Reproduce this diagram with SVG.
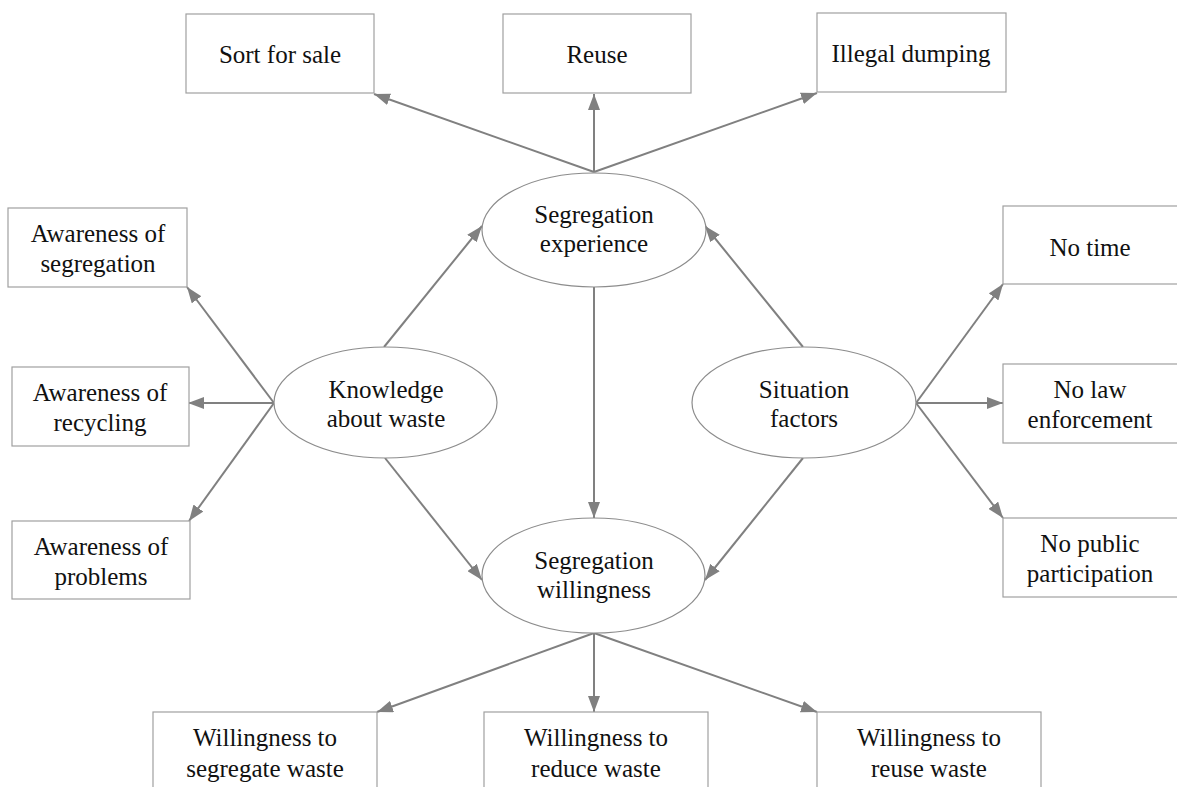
<svg xmlns="http://www.w3.org/2000/svg" width="1177" height="787" viewBox="0 0 1177 787">
<style>
.box{fill:#fff;stroke:#a0a0a0;stroke-width:1.2}
.ell{fill:#fff;stroke:#8c8c8c;stroke-width:1.2}
.t{font-family:"Liberation Serif","Times New Roman",serif;font-size:25px;fill:#111;text-anchor:middle}
.c line{stroke:#808080;stroke-width:2;marker-end:url(#ah)}
</style>
<defs>
<marker id="ah" markerUnits="userSpaceOnUse" viewBox="0 0 16 12" markerWidth="16" markerHeight="12" refX="16" refY="6" orient="auto">
<path d="M0,0 L16,6 L0,12 z" fill="#808080"/>
</marker>
</defs>
<rect width="1177" height="787" fill="#fff"/>
<g class="c" id="connectors">
<line x1="594" y1="172" x2="374" y2="94"/>
<line x1="594" y1="172" x2="594" y2="94"/>
<line x1="594" y1="172" x2="817" y2="93"/>
<line x1="384" y1="347" x2="482" y2="226"/>
<line x1="803" y1="347" x2="705" y2="226"/>
<line x1="594" y1="287" x2="594" y2="518"/>
<line x1="385" y1="458" x2="482" y2="580"/>
<line x1="803" y1="458" x2="705" y2="580"/>
<line x1="274" y1="403" x2="187" y2="287"/>
<line x1="274" y1="403" x2="188" y2="403"/>
<line x1="274" y1="403" x2="189" y2="521"/>
<line x1="916" y1="403" x2="1003" y2="284"/>
<line x1="916" y1="403" x2="1003" y2="403"/>
<line x1="916" y1="403" x2="1003" y2="518"/>
<line x1="594" y1="633" x2="377" y2="712"/>
<line x1="594" y1="633" x2="594" y2="712"/>
<line x1="594" y1="633" x2="817" y2="712"/>
</g>
<g id="sort"><rect class="box" x="186" y="14" width="188" height="79"/><text class="t" x="280" y="63">Sort for sale</text></g>
<g id="reuse"><rect class="box" x="503" y="14" width="188" height="79"/><text class="t" x="597" y="63">Reuse</text></g>
<g id="illegal"><rect class="box" x="817" y="13" width="189" height="79"/><text class="t" x="911" y="62">Illegal dumping</text></g>
<g id="experience"><ellipse class="ell" cx="594" cy="230" rx="112" ry="57"/><text class="t" x="594" y="223">Segregation</text><text class="t" x="594" y="252">experience</text></g>
<g id="knowledge"><ellipse class="ell" cx="385.5" cy="402.5" rx="111.5" ry="55.5"/><text class="t" x="386" y="398">Knowledge</text><text class="t" x="386" y="427">about waste</text></g>
<g id="situation"><ellipse class="ell" cx="804" cy="402.5" rx="112" ry="55.5"/><text class="t" x="804" y="398">Situation</text><text class="t" x="804" y="427">factors</text></g>
<g id="willingness"><ellipse class="ell" cx="593.5" cy="575.5" rx="111.5" ry="57.5"/><text class="t" x="594" y="569">Segregation</text><text class="t" x="594" y="598">willingness</text></g>
<g id="aw-seg"><rect class="box" x="8" y="208" width="179" height="79"/><text class="t" x="98" y="242">Awareness of</text><text class="t" x="98" y="272">segregation</text></g>
<g id="aw-rec"><rect class="box" x="12" y="367" width="177" height="79"/><text class="t" x="100" y="401">Awareness of</text><text class="t" x="100" y="431">recycling</text></g>
<g id="aw-prob"><rect class="box" x="12" y="521" width="178" height="78"/><text class="t" x="101" y="555">Awareness of</text><text class="t" x="101" y="585">problems</text></g>
<g id="notime"><rect class="box" x="1003" y="206" width="190" height="78"/><text class="t" x="1090" y="256">No time</text></g>
<g id="nolaw"><rect class="box" x="1003" y="364" width="190" height="79"/><text class="t" x="1090" y="398">No law</text><text class="t" x="1090" y="428">enforcement</text></g>
<g id="nopublic"><rect class="box" x="1003" y="518" width="190" height="79"/><text class="t" x="1090" y="552">No public</text><text class="t" x="1090" y="582">participation</text></g>
<g id="w-seg"><rect class="box" x="153" y="712" width="224" height="90"/><text class="t" x="265" y="746">Willingness to</text><text class="t" x="265" y="777">segregate waste</text></g>
<g id="w-red"><rect class="box" x="484" y="712" width="224" height="90"/><text class="t" x="596" y="746">Willingness to</text><text class="t" x="596" y="777">reduce waste</text></g>
<g id="w-reu"><rect class="box" x="817" y="712" width="224" height="90"/><text class="t" x="929" y="746">Willingness to</text><text class="t" x="929" y="777">reuse waste</text></g>
</svg>
